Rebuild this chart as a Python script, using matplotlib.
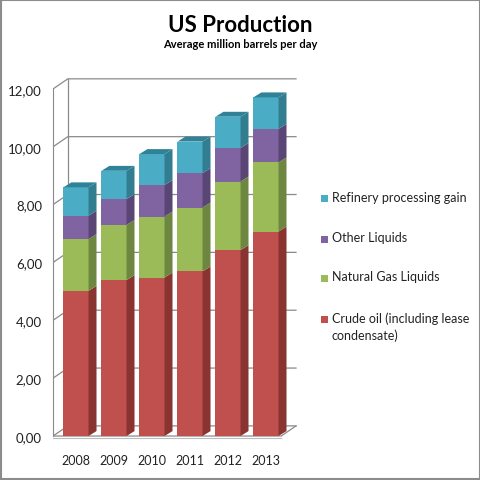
import matplotlib.pyplot as plt
from matplotlib.patches import Polygon, Rectangle

years = ['2008', '2009', '2010', '2011', '2012', '2013']
crude = [5.02, 5.39, 5.48, 5.69, 6.43, 7.07]
ngl = [1.79, 1.91, 2.11, 2.21, 2.37, 2.39]
other = [0.81, 0.89, 1.09, 1.19, 1.16, 1.16]
refinery = [0.98, 0.98, 1.07, 1.09, 1.08, 1.09]
series_names = ['Crude oil (including lease\ncondensate)', 'Natural Gas Liquids',
                'Other Liquids', 'Refinery processing gain']
yticks = [0, 2, 4, 6, 8, 10, 12]

front = ['#C0504D', '#9BBB59', '#8064A2', '#4BACC6']
side = ['#8A3432', '#6E8740', '#5A4675', '#337D90']
top = ['#A04441', '#84A04A', '#6C5590', '#2F8298']

plt.rcParams['font.family'] = ['Lato', 'DejaVu Sans']
fig = plt.figure(figsize=(4.81, 4.81), dpi=100)
# outer frame
fig.patches.append(Rectangle((0.002, 0.002), 0.996, 0.996, facecolor='none',
                             edgecolor='#8c8c8c', lw=1.5, transform=fig.transFigure))

# axes in pixel terms: left 53, right 300, y=0 at 437, 12 at 90
ax = fig.add_axes([53 / 481, (481 - 445.7) / 481, (300 - 53) / 481, (445.7 - 72.6) / 481])
ax.set_xlim(-0.605, 5.895)
ax.set_ylim(-0.3, 12.6)

bw = 0.66      # bar width
bdx, bdy = 0.21, 0.17   # bar depth offset
wdx, wdy = 0.39, 0.35   # wall depth offset
x0, xr = -0.605, 5.40

grid_c = '#8a8a8a'
# walls / gridlines
for v in yticks:
    ax.plot([x0, x0 + wdx, xr + wdx], [v, v + wdy, v + wdy], color=grid_c, lw=0.9, zorder=1)
ax.plot([x0 + wdx, x0 + wdx], [wdy, 12 + wdy], color=grid_c, lw=0.9, zorder=1)
ax.plot([x0, xr, xr + wdx], [0, 0, wdy], color=grid_c, lw=0.9, zorder=1)
ax.plot([x0, xr], [-0.08, -0.08], color='#bbbbbb', lw=0.8, zorder=1)

stack = [crude, ngl, other, refinery]
for i in range(len(years)):
    base = 0.0
    xl = i - bw / 2
    xrr = i + bw / 2
    for k, s in enumerate(stack):
        h = s[i]
        b, t = base, base + h
        ax.add_patch(Rectangle((xl, b), bw, h, facecolor=front[k], edgecolor='none', zorder=3))
        ax.add_patch(Polygon([(xrr, b), (xrr + bdx, b + bdy), (xrr + bdx, t + bdy), (xrr, t)],
                             closed=True, facecolor=side[k], edgecolor='none', zorder=3))
        base = t
    k = len(stack) - 1
    ax.add_patch(Polygon([(xl, base), (xl + bdx, base + bdy), (xrr + bdx, base + bdy), (xrr, base)],
                         closed=True, facecolor=top[k], edgecolor='none', zorder=3))

for sp in ['top', 'right', 'bottom']:
    ax.spines[sp].set_visible(False)
ax.spines['left'].set_bounds(0, 12)
ax.spines['left'].set_color(grid_c)
ax.spines['left'].set_position(('data', x0))
ax.set_yticks(yticks)
ax.set_yticklabels([('%.2f' % v).replace('.', ',') for v in yticks])
ax.tick_params(axis='y', length=0, pad=8, labelsize=9.5, labelcolor='#222222')
ax.set_xticks(range(len(years)))
ax.set_xticklabels(years)
ax.tick_params(axis='x', length=0, pad=7, labelsize=9, labelcolor='#222222')
ax.set_facecolor('none')

fig.text(0.5, 1 - 25 / 481, 'US Production', ha='center', va='center',
         fontsize=16, fontweight='bold', color='black')
fig.text(0.5, 1 - 45 / 481, 'Average million barrels per day', ha='center', va='center',
         fontsize=8, fontweight='bold', color='black')

# legend
leg_y = [320, 279, 240, 199]
for k, name in enumerate(series_names):
    y = leg_y[k]
    fig.patches.append(Rectangle((321 / 481, 1 - (y + 3.5) / 481), 7 / 481, 7 / 481,
                                 facecolor=front[k], edgecolor='none', transform=fig.transFigure))
    fig.text(332 / 481, 1 - (y - 7.5) / 481, name, ha='left', va='top', fontsize=9,
             color='#222222', linespacing=1.45)

fig.savefig('out.png', dpi=100)
